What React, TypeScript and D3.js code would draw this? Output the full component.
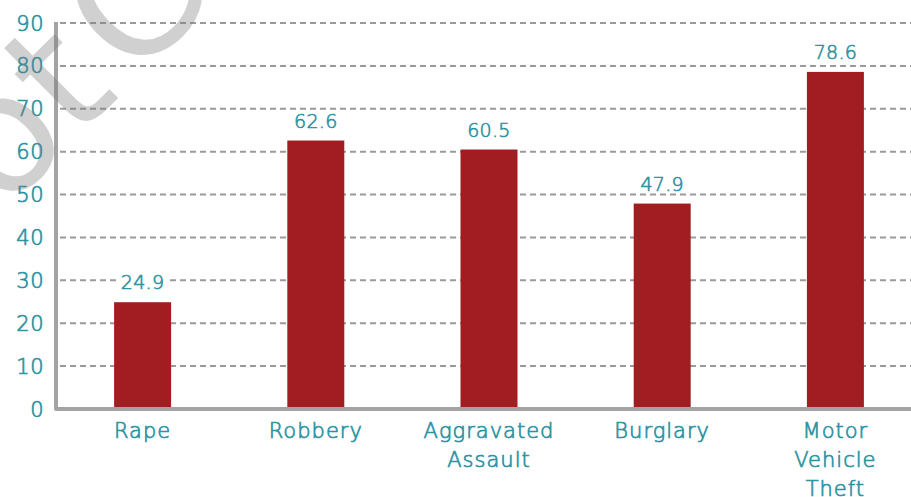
import React, { useEffect, useRef } from "react";
import * as d3 from "d3";

const categories: string[][] = [
  ["Rape"],
  ["Robbery"],
  ["Aggravated", "Assault"],
  ["Burglary"],
  ["Motor", "Vehicle", "Theft"],
];
const values: number[] = [24.9, 62.6, 60.5, 47.9, 78.6];
const yTicks: number[] = [0, 10, 20, 30, 40, 50, 60, 70, 80, 90];

const W = 911;
const H = 497;
const FONT = "'DejaVu Sans', 'Noto Sans', sans-serif";
const WEIGHT = 200;
const TEAL = "#2b93a2";
const BAR = "#a11d22";
const AXIS = "#a3a3a3";
const GRID = "#9a9a9a";
const THICK = 0.7;

export default function App() {
  const ref = useRef<SVGSVGElement | null>(null);

  useEffect(() => {
    const svg = d3.select(ref.current);
    svg.selectAll("*").remove();

    const keys = categories.map((c) => c.join(" "));
    const x = d3
      .scaleBand<string>()
      .domain(keys)
      .range([56, 922])
      .paddingInner(0.671)
      .paddingOuter(0.3355);
    const y = d3.scaleLinear().domain([0, 90]).range([409, 23]);

    svg
      .append("g")
      .selectAll("line")
      .data(yTicks.filter((t) => t > 0))
      .join("line")
      .attr("x1", 60)
      .attr("x2", W)
      .attr("y1", (d) => y(d))
      .attr("y2", (d) => y(d))
      .attr("stroke", GRID)
      .attr("stroke-width", 2)
      .attr("stroke-dasharray", "6,4");

    svg
      .append("g")
      .selectAll("text")
      .data(yTicks)
      .join("text")
      .attr("x", 44)
      .attr("y", (d) => y(d))
      .attr("dy", "0.36em")
      .attr("text-anchor", "end")
      .attr("fill", TEAL)
      .attr("stroke", TEAL)
      .attr("stroke-width", THICK)
      .attr("font-family", FONT)
      .attr("font-weight", WEIGHT)
      .attr("font-size", 21)
      .attr("letter-spacing", 0.5)
      .text((d) => String(d));

    svg
      .append("g")
      .selectAll("rect")
      .data(values)
      .join("rect")
      .attr("x", (_d, i) => x(keys[i]) as number)
      .attr("width", x.bandwidth())
      .attr("y", (d) => y(d))
      .attr("height", (d) => y(0) - y(d))
      .attr("fill", BAR);

    const lg = svg.append("g");
    values.forEach((v, i) => {
      const cx = (x(keys[i]) as number) + x.bandwidth() / 2;
      const g = lg.append("g");
      const bg = g.append("rect").attr("fill", "#fff");
      const t = g
        .append("text")
        .attr("x", cx)
        .attr("y", y(v) - 13)
        .attr("text-anchor", "middle")
        .attr("fill", TEAL)
        .attr("stroke", TEAL)
        .attr("stroke-width", THICK * 0.9)
        .attr("font-family", FONT)
        .attr("font-weight", WEIGHT)
        .attr("font-size", 19)
        .attr("letter-spacing", 0.3)
        .text(v.toFixed(1));
      const bb = (t.node() as SVGTextElement).getBBox();
      bg.attr("x", bb.x - 2)
        .attr("y", bb.y + 3)
        .attr("width", bb.width + 4)
        .attr("height", bb.height - 5);
    });

    svg
      .append("path")
      .attr("d", `M56,22 L56,409 L${W},409`)
      .attr("fill", "none")
      .attr("stroke", AXIS)
      .attr("stroke-width", 4)
      .attr("stroke-linejoin", "round");

    const cg = svg.append("g");
    categories.forEach((lines, i) => {
      const cx = (x(keys[i]) as number) + x.bandwidth() / 2;
      const t = cg
        .append("text")
        .attr("text-anchor", "middle")
        .attr("fill", TEAL)
        .attr("stroke", TEAL)
        .attr("stroke-width", THICK)
        .attr("font-family", FONT)
        .attr("font-weight", WEIGHT)
        .attr("font-size", 21)
        .attr("letter-spacing", 1);
      lines.forEach((ln, j) => {
        t.append("tspan")
          .attr("x", cx)
          .attr("y", 438 + j * 29)
          .text(ln);
      });
    });

    // watermark: place the centre of the "t" glyph at a target point
    const S = 165;
    const wm = svg
      .append("text")
      .attr("fill", "rgba(120,120,120,0.35)")
      .attr("font-family", FONT)
      .attr("font-weight", 400)
      .attr("font-size", S)
      .attr("word-spacing", -35)
      .text("Not Copy");
    const ext = (wm.node() as SVGTextElement).getExtentOfChar(2);
    const lx = ext.x + ext.width / 2;
    const ly = -0.36 * S;
    const a = (-45 * Math.PI) / 180;
    const px = lx * Math.cos(a) - ly * Math.sin(a);
    const py = lx * Math.sin(a) + ly * Math.cos(a);
    const tx = 56 - px;
    const ty = 76 - py;
    wm.attr("transform", `translate(${tx},${ty}) rotate(-45)`);
  }, []);

  return (
    <svg
      ref={ref}
      width={W}
      height={H}
      style={{ position: "absolute", left: 0, top: 0, background: "#fff" }}
    />
  );
}
